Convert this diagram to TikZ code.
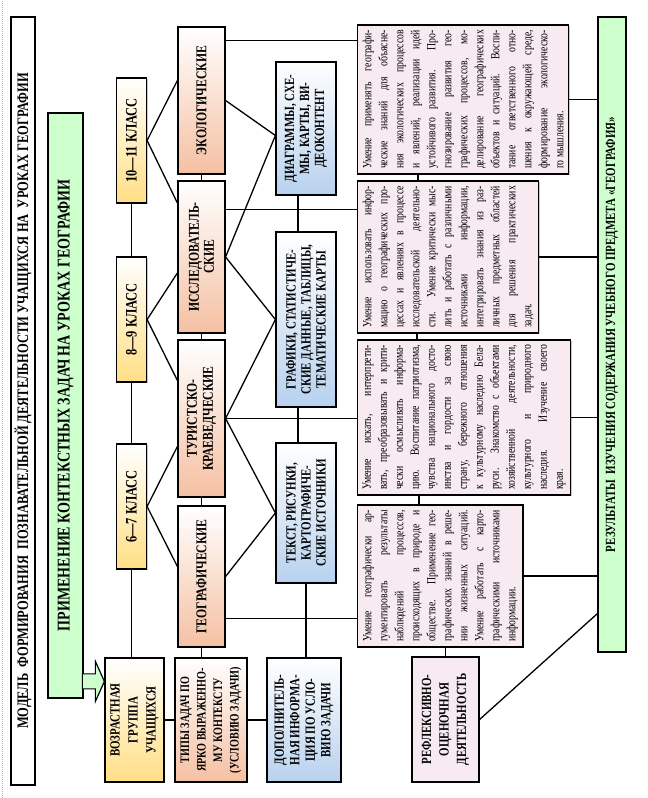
\documentclass[tikz,border=0pt]{standalone}
\usepackage{fontspec}
\setmainfont{Liberation Serif}[FakeStretch=0.78]
\usetikzlibrary{shadows}

\definecolor{agegold}{HTML}{FFDF85}
\definecolor{typesalmon}{HTML}{F5C0A2}
\definecolor{srcblue}{HTML}{B7D1EE}
\definecolor{respink}{HTML}{F7EAF1}
\definecolor{mintgreen}{HTML}{CCFFCC}
\definecolor{shadowbrown}{HTML}{A08060}
\definecolor{borderblue}{HTML}{9DB7D8}

\newcommand{\jline}[1]{\leavevmode\hbox to\hsize{#1}\par}

\tikzset{
  boxframe/.style={draw, line width=1.2pt, inner sep=0pt, align=center},
  boxshadow/.style={drop shadow={shadow xshift=1.2pt, shadow yshift=-1.2pt, fill=shadowbrown, opacity=0.45}},
  headbox/.style={boxframe, fill=white},
  greenbox/.style={boxframe, fill=mintgreen},
  goldbox/.style={boxframe, boxshadow, top color=white, bottom color=agegold},
  salmonbox/.style={boxframe, boxshadow, top color=white, bottom color=typesalmon},
  bluebox/.style={boxframe, boxshadow, top color=white, bottom color=srcblue},
  pinkbox/.style={boxframe, boxshadow, fill=respink},
  resbox/.style={draw, line width=1.2pt, boxshadow, fill=respink, inner sep=5pt,
    align=justify, anchor=north, font=\fontsize{12.5}{16}\selectfont},
  link/.style={line width=1.3pt},
}

\begin{document}
\begin{tikzpicture}[x=1pt, y=1pt]
\begin{scope}[rotate=90, transform shape]
\useasboundingbox (0,0) rectangle (798,648);
\draw[densely dotted, line width=1pt, borderblue] (0,645) -- (798,645);

% headings
\node[headbox, minimum width=768, minimum height=24, font=\bfseries\fontsize{16}{16}\selectfont] (title) at (397,625)
  {МОДЕЛЬ\ \ ФОРМИРОВАНИЯ\ \ ПОЗНАВАТЕЛЬНОЙ ДЕЯТЕЛЬНОСТИ УЧАЩИХСЯ НА\ \ УРОКАХ ГЕОГРАФИИ};
\node[greenbox, minimum width=585, minimum height=35, font=\bfseries\fontsize{18}{18}\selectfont] (apply) at (392.5,582.5)
  {ПРИМЕНЕНИЕ КОНТЕКСТНЫХ ЗАДАЧ НА УРОКАХ ГЕОГРАФИИ};
\node[greenbox, minimum width=635, minimum height=28, font=\bfseries\fontsize{14}{14}\selectfont] (results) at (463.5,36)
  {РЕЗУЛЬТАТЫ\ \ ИЗУЧЕНИЯ СОДЕРЖАНИЯ УЧЕБНОГО ПРЕДМЕТА «ГЕОГРАФИЯ»};

% left column
\node[goldbox, minimum width=124, minimum height=59, font=\bfseries\fontsize{14}{18}\selectfont] (age) at (78,513.5)
  {ВОЗРАСТНАЯ\\ГРУППА\\УЧАЩИХСЯ};
\node[salmonbox, minimum width=124, minimum height=72, font=\bfseries\fontsize{13}{16.5}\selectfont] (tasks) at (78,437)
  {ТИПЫ ЗАДАЧ ПО\\ЯРКО ВЫРАЖЕННО-\\МУ КОНТЕКСТУ\\(УСЛОВИЮ ЗАДАЧИ)};
\node[bluebox, minimum width=124, minimum height=74, font=\bfseries\fontsize{14}{15.5}\selectfont] (extra) at (78,344)
  {ДОПОЛНИТЕЛЬ-\\НАЯ ИНФОРМА-\\ЦИЯ ПО УСЛО-\\ВИЮ ЗАДАЧИ};
\node[pinkbox, minimum width=125, minimum height=67, font=\bfseries\fontsize{14}{17.5}\selectfont] (refl) at (78.5,202.5)
  {РЕФЛЕКСИВНО-\\ОЦЕНОЧНАЯ\\ДЕЯТЕЛЬНОСТЬ};

% classes
\node[goldbox, minimum width=125, minimum height=30, font=\bfseries\fontsize{16}{16}\selectfont] (c67) at (291.5,516.5) {6—7 КЛАСС};
\node[goldbox, minimum width=125, minimum height=30, font=\bfseries\fontsize{16}{16}\selectfont] (c89) at (478.5,516.5) {8—9 КЛАСС};
\node[goldbox, minimum width=125, minimum height=30, font=\bfseries\fontsize{16}{16}\selectfont] (c1011) at (657.5,516.5) {10—11 КЛАСС};

% task types
\node[salmonbox, minimum width=141, minimum height=47, font=\bfseries\fontsize{15}{15}\selectfont] (geo) at (221.5,446.5) {ГЕОГРАФИЧЕСКИЕ};
\node[salmonbox, minimum width=157, minimum height=47, font=\bfseries\fontsize{15}{16}\selectfont] (tour) at (379.5,446.5) {ТУРИСТСКО-\\КРАЕВЕДЧЕСКИЕ};
\node[salmonbox, minimum width=152, minimum height=47, font=\bfseries\fontsize{15}{15}\selectfont] (res) at (541,446.5) {ИССЛЕДОВАТЕЛЬ-\\СКИЕ};
\node[salmonbox, minimum width=147, minimum height=47, font=\bfseries\fontsize{15}{15}\selectfont] (eco) at (697.5,446.5) {ЭКОЛОГИЧЕСКИЕ};

% sources
\node[bluebox, minimum width=140, minimum height=60, font=\bfseries\fontsize{14}{15}\selectfont] (txt) at (285,342)
  {ТЕКСТ, РИСУНКИ,\\КАРТОГРАФИЧЕ-\\СКИЕ ИСТОЧНИКИ};
\node[bluebox, minimum width=175, minimum height=60, font=\bfseries\fontsize{14}{15}\selectfont] (graph) at (478.5,342)
  {ГРАФИКИ, СТАТИСТИЧЕ-\\СКИЕ ДАННЫЕ, ТАБЛИЦЫ,\\ТЕМАТИЧЕСКИЕ КАРТЫ};
\node[bluebox, minimum width=133, minimum height=60, font=\bfseries\fontsize{14}{15}\selectfont] (diag) at (669.5,342)
  {ДИАГРАММЫ, СХЕ-\\МЫ, КАРТЫ, ВИ-\\ДЕОКОНТЕНТ};

% results of each type
\node[resbox, text width=132] (rgeo) at (222,291) {%
\jline{Умение географически ар-}
\jline{гументировать результаты}
\jline{наблюдений процессов,}
\jline{происходящих в природе и}
\jline{обществе. Применение гео-}
\jline{графических знаний в реше-}
\jline{нии жизненных ситуаций.}
\jline{Умение работать с карто-}
\jline{графическими источниками}
информации.};
\node[resbox, text width=145] (rtour) at (380.5,291) {%
\jline{Умение искать, интерпрети-}
\jline{вать, преобразовывать и крити-}
\jline{чески осмысливать информа-}
\jline{цию. Воспитание патриотизма,}
\jline{чувства национального досто-}
\jline{инства и гордости за свою}
\jline{страну, бережного отношения}
\jline{к культурному наследию Бела-}
\jline{руси. Знакомство с объектами}
\jline{хозяйственной деятельности,}
\jline{культурного и природного}
\jline{наследия. Изучение своего}
края.};
\node[resbox, text width=142] (rres) at (541,291) {%
\jline{Умение использовать инфор-}
\jline{мацию о географических про-}
\jline{цессах и явлениях в процессе}
\jline{исследовательской деятельно-}
\jline{сти. Умение критически мыс-}
\jline{лить и работать с различными}
\jline{источниками информации,}
\jline{интегрировать знания из раз-}
\jline{личных предметных областей}
\jline{для решения практических}
задач.};
\node[resbox, text width=139] (reco) at (698.5,291) {%
\jline{Умение применять географи-}
\jline{ческие знаний для объясне-}
\jline{ния экологических процессов}
\jline{и явлений, реализации идей}
\jline{устойчивого развития. Про-}
\jline{гнозирование развития гео-}
\jline{графических процессов, мо-}
\jline{делирование географических}
\jline{объектов и ситуаций. Воспи-}
\jline{тание ответственного отно-}
\jline{шения к окружающей среде,}
\jline{формирование экологическо-}
го мышления.};

% arrow into the age group
\coordinate (tip) at ([xshift=-24pt]age.north east);
\draw[line width=1.2pt, fill=mintgreen] (tip) -- ++(-20,9) -- ++(12.5,0) -- ++(0,13) -- ++(15,0) -- ++(0,-13) -- ++(12.5,0) -- cycle;

% connectors
\draw[link] (age.east |- c67.west) -- (c67.west);
\draw[link] (c67.east) -- (c89.west);
\draw[link] (c89.east) -- (c1011.west);
\draw[link] (age.south) -- (tasks.north);
\draw[link] (tasks.south) -- (extra.north);
\draw[link] (tasks.east |- geo.west) -- (geo.west);
\draw[link] (geo.east) -- (tour.west);
\draw[link] (tour.east) -- (res.west);
\draw[link] (res.east) -- (eco.west);
\draw[link] ([xshift=10pt]geo.north) -- (c67.south) -- ([xshift=-28pt]tour.north);
\draw[link] ([xshift=38pt]tour.north) -- (c89.south) -- ([xshift=-16pt]res.north);
\draw[link] ([xshift=54pt]res.north) -- (c1011.south) -- ([xshift=20pt]eco.north);
\draw[link] (geo.south) -- (txt.north) -- (tour.south) -- (graph.north) -- (res.south) -- ([xshift=-7pt]diag.north) -- (eco.south);
\draw[link] ([yshift=8pt]diag.west) -- ([yshift=8pt]graph.east);
\draw[link] ([yshift=8pt]graph.west) -- ([yshift=8pt]txt.east);
\draw[link] (txt.west) -- (txt.west -| extra.east);
\draw[link] ([xshift=-14pt]eco.south east) -- ([xshift=-14pt]eco.south east |- reco.north);
\draw[link] ([xshift=-29pt]res.south east) -- ([xshift=-29pt]res.south east |- rres.north);
\draw[link] (tour.south) -- (tour.south |- rtour.north);
\draw[link] ([xshift=29pt]geo.south west) -- ([xshift=29pt]geo.south west |- rgeo.north);
\draw[link] ([yshift=-61pt]reco.north west) -- ([yshift=-61pt]rres.north east);
\draw[link] ([yshift=-60pt]rres.north west) -- ([yshift=-60pt]rtour.north east);
\draw[link] ([yshift=-62pt]rtour.north west) -- ([yshift=-62pt]rgeo.north east);
\draw[link] (refl.east) -- (refl.east -| rgeo.west);
\draw[link] (reco.south) -- (reco.south |- results.north);
\draw[link] (rres.south) -- (rres.south |- results.north);
\draw[link] (rtour.south) -- (rtour.south |- results.north);
\draw[link] (rgeo.south) -- (rgeo.south |- results.north);
\draw[link] (refl.south) -- ([xshift=39pt]results.north west);
\end{scope}
\end{tikzpicture}
\end{document}
